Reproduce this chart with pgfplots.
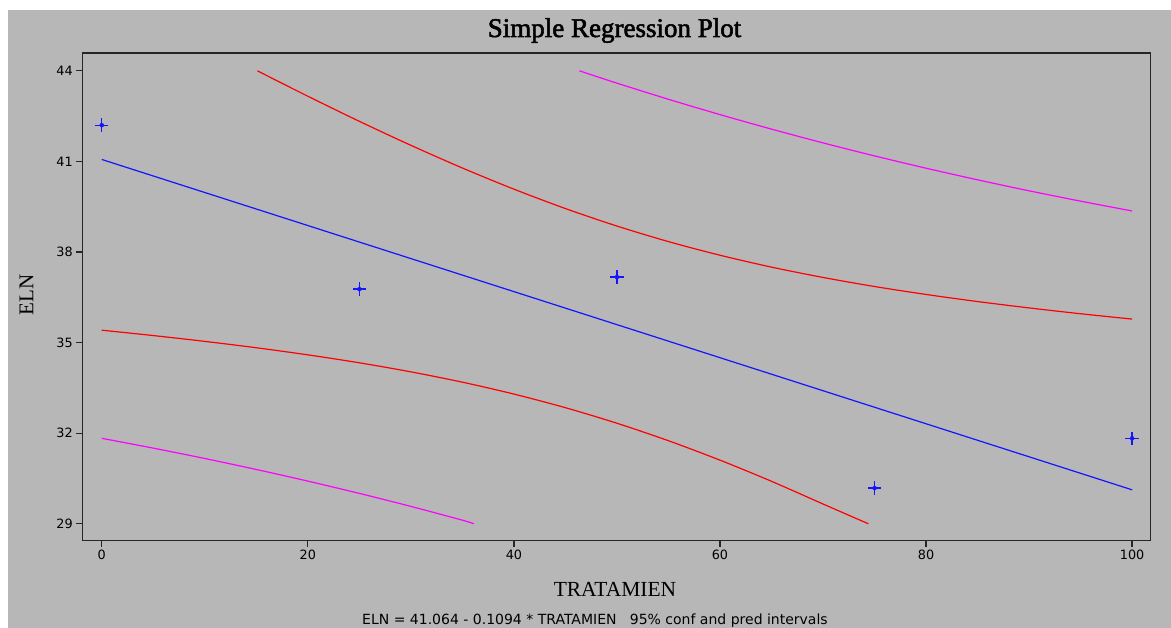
\documentclass[border=0pt]{standalone}
\usepackage{fontspec}
\setmainfont{Liberation Serif}
\newfontfamily\dejavu{DejaVu Sans}
\newfontfamily\titlefont[BoldFont={Liberation Serif}, BoldFeatures={FakeBold=2}]{Liberation Serif}
\usepackage{pgfplots}
\pgfplotsset{compat=1.18}
\definecolor{bg}{RGB}{183,183,183}
\definecolor{myblue}{RGB}{20,20,255}
\definecolor{myred}{RGB}{255,0,0}
\definecolor{mymag}{RGB}{255,0,255}
\begin{document}
\begin{tikzpicture}
\path[use as bounding box] (0pt,0pt) rectangle (1171pt,628pt);
\fill[white] (0pt,0pt) rectangle (1171pt,628pt);
\fill[bg] (8pt,0pt) rectangle (1171pt,618pt);
\begin{axis}[
 at={(82.3pt,87.3pt)}, anchor=south west,
 scale only axis, width=1068.4pt, height=487.4pt,
 xmin=-1.89, xmax=101.8, ymin=28.44, ymax=44.58,
 xtick={0,20,40,60,80,100}, ytick={29,32,35,38,41,44},
 tick pos=left, tick align=outside, major tick length=6pt,
 axis line style={line width=1.6pt, color=black!85},
 every tick/.style={line width=1.3pt, black!85},
 ticklabel style={font=\dejavu\fontsize{12.8}{13}\selectfont},
 /pgf/number format/assume math mode=true,
]
% pred interval upper
\addplot[mymag, line width=1.2pt, smooth] coordinates {
(46.35,44.0) (50,43.591) (55,43.057) (60,42.550) (65,42.069) (70,41.613) (75,41.182)
(80,40.775) (85,40.390) (90,40.026) (95,39.683) (100,39.358)};
% pred interval lower
\addplot[mymag, line width=1.2pt, smooth] coordinates {
(0,31.830) (5,31.505) (10,31.162) (15,30.798) (20,30.413) (25,30.006) (30,29.575) (35,29.119) (36.1,29.0)};
% conf interval upper
\addplot[myred, line width=1.2pt, smooth] coordinates {
(15.1,44.0) (20,43.158) (25,42.327) (30,41.533) (35,40.781) (40,40.081) (45,39.438) (50,38.859)
(55,38.344) (60,37.893) (65,37.499) (70,37.157) (75,36.857) (80,36.594) (85,36.359)
(90,36.148) (95,35.955) (100,35.778)};
% conf interval lower
\addplot[myred, line width=1.2pt, smooth] coordinates {
(0,35.410) (5,35.233) (10,35.040) (15,34.829) (20,34.594) (25,34.331) (30,34.031) (35,33.689)
(40,33.295) (45,32.844) (50,32.329) (55,31.750) (60,31.107) (65,30.407) (70,29.655) (74.4,29.0)};
% fit
\addplot[myblue, line width=1.2pt] coordinates {(0,41.064) (100,30.124)};
% data (plus signs drawn as error crosses)
\addplot[myblue, only marks, mark=none,
  error bars/.cd, x dir=both, x fixed=0.65, y dir=both, y fixed=0.222,
  error mark=none, error bar style={myblue, line width=1.3pt}] coordinates {
(0,42.20) (25,36.77) (50,37.17) (75,30.18) (100,31.83)};
\end{axis}
\node[anchor=base, font=\titlefont\bfseries\fontsize{27}{30}\selectfont] at (614.5pt,591pt) {Simple Regression Plot};
\node[anchor=base, font=\fontsize{21.5}{24}\selectfont] at (615pt,31.3pt) {TRATAMIEN};
\node[rotate=90, anchor=base, font=\fontsize{21}{24}\selectfont] at (33.3pt,333pt) {ELN};
\node[anchor=base, font=\dejavu\fontsize{14}{15}\selectfont] at (595pt,3pt) {ELN = 41.064 - 0.1094 * TRATAMIEN\ \ \ 95\% conf and pred intervals};
\end{tikzpicture}
\end{document}
